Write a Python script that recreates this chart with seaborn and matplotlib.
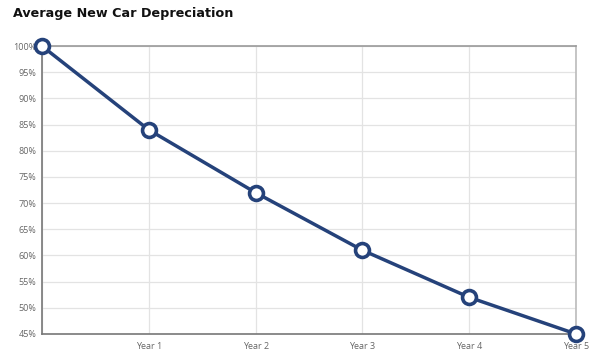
import numpy as np
import pandas as pd
import seaborn as sns
import matplotlib.pyplot as plt
from matplotlib.ticker import FixedLocator

# data
years = [0, 1, 2, 3, 4, 5]
year_labels = ["", "Year 1", "Year 2", "Year 3", "Year 4", "Year 5"]
value_pct = [100, 84, 72, 61, 52, 45]
y_ticks = [45, 50, 55, 60, 65, 70, 75, 80, 85, 90, 95, 100]

df = pd.DataFrame({"year": years, "value": value_pct})

sns.set_style("white")
plt.rcParams["font.family"] = ["Open Sans", "DejaVu Sans"]

fig = plt.figure(figsize=(6, 3.63), dpi=100)
ax = fig.add_axes([0.07, 0.08, 0.89, 0.793])

line_color = "#25427a"
sns.lineplot(data=df, x="year", y="value", ax=ax, color=line_color, linewidth=2.5,
             marker="o", markersize=10, markerfacecolor="white",
             markeredgecolor=line_color, markeredgewidth=2.6, clip_on=False, zorder=5)

ax.set_xlim(0, 5)
ax.set_ylim(45, 100)
ax.xaxis.set_major_locator(FixedLocator(years))
ax.set_xticklabels(year_labels)
ax.yaxis.set_major_locator(FixedLocator(y_ticks))
ax.set_yticklabels([f"{v}%" for v in y_ticks])
ax.set_xlabel("")
ax.set_ylabel("")

ax.grid(True, color="#e3e3e3", linewidth=0.9)
ax.set_axisbelow(True)
ax.tick_params(axis="both", length=0, labelsize=6.5, labelcolor="#666666")
ax.tick_params(axis="x", pad=6)
ax.tick_params(axis="y", pad=4)

ax.spines["left"].set_color("#777777")
ax.spines["bottom"].set_color("#777777")
ax.spines["top"].set_color("#999999")
ax.spines["right"].set_color("#bbbbbb")
for s in ax.spines.values():
    s.set_linewidth(1.2)

fig.text(13 / 600, 1 - 14 / 363, "Average New Car Depreciation", fontsize=9.2,
         fontweight="heavy", color="#111111", va="center", ha="left",
         family=["DejaVu Sans"])

fig.savefig("out.png", dpi=100)
